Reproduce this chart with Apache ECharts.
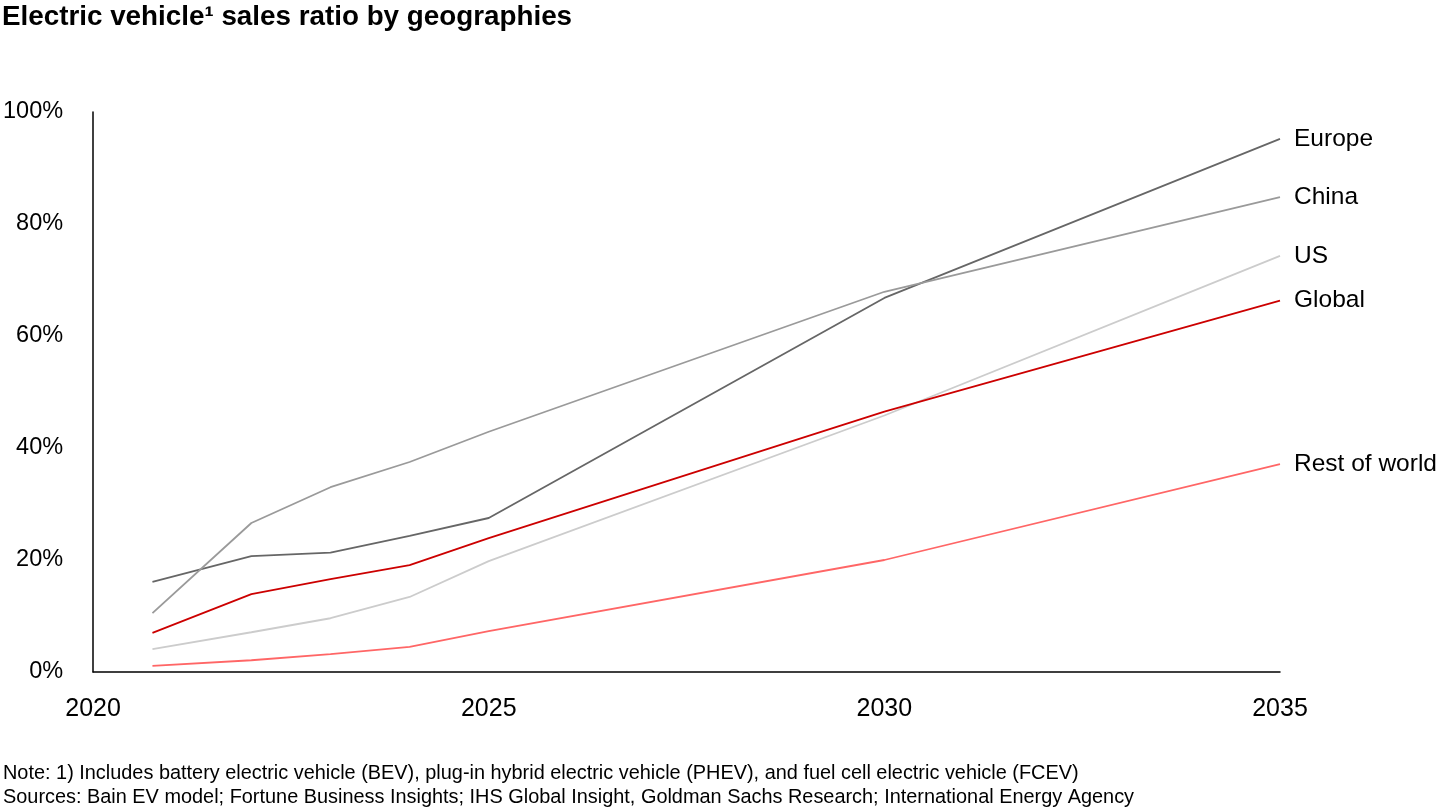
<!DOCTYPE html>
<html>
<head>
<meta charset="utf-8">
<script src="https://cdn.jsdelivr.net/npm/echarts@6/dist/echarts.min.js"></script>
<style>
html,body{margin:0;padding:0;background:#fff;}
#chart{width:1440px;height:810px;}
</style>
</head>
<body>
<div id="chart"></div>
<script>
const years = [2020.75, 2022, 2023, 2024, 2025, 2030, 2035];
const seriesNames = ['Europe', 'China', 'US', 'Global', 'Rest of world'];
const europe = [16.1, 20.7, 21.3, 24.3, 27.5, 66.8, 95.2];
const china = [10.5, 26.6, 33.0, 37.5, 42.9, 67.9, 84.8];
const us = [4.1, 7.1, 9.6, 13.4, 19.8, 45.8, 74.3];
const globalVals = [7.0, 13.9, 16.6, 19.1, 23.9, 46.5, 66.3];
const restOfWorld = [1.1, 2.1, 3.2, 4.5, 7.3, 20.0, 37.1];
const yTicks = [0, 20, 40, 60, 80, 100];
const xTicks = [2020, 2025, 2030, 2035];
const titleText = 'Electric vehicle\u00b9 sales ratio by geographies';
const noteText = 'Note: 1) Includes battery electric vehicle (BEV), plug-in hybrid electric vehicle (PHEV), and fuel cell electric vehicle (FCEV)';
const sourceText = 'Sources: Bain EV model; Fortune Business Insights; IHS Global Insight, Goldman Sachs Research; International Energy Agency';

const valuesList = [europe, china, us, globalVals, restOfWorld];
const colors = ['#666666', '#9a9a9a', '#cccccc', '#cc0000', '#ff6666'];
const FONT = '"Liberation Sans", Arial, sans-serif';

const chart = echarts.init(document.getElementById('chart'));
chart.setOption({
  animation: false,
  backgroundColor: '#fff',
  title: [
    {text: titleText, left: 2, top: 3, padding: 0, textStyle: {fontFamily: FONT, fontSize: 27.8, fontWeight: 'bold', color: '#000'}},
    {text: noteText, left: 3, top: 764, padding: 0, textStyle: {fontFamily: FONT, fontSize: 19.9, fontWeight: 'normal', color: '#000'}},
    {text: sourceText, left: 3, top: 788, padding: 0, textStyle: {fontFamily: FONT, fontSize: 19.9, fontWeight: 'normal', color: '#000'}}
  ],
  grid: {left: 92, right: 160, top: 112, bottom: 138},
  xAxis: {
    type: 'value', min: xTicks[0], max: xTicks[xTicks.length - 1], interval: 5,
    axisLine: {show: true, lineStyle: {color: '#000', width: 1.5}},
    axisTick: {show: false},
    splitLine: {show: false},
    axisLabel: {fontFamily: FONT, fontSize: 25, color: '#000', margin: 25, formatter: v => String(v)}
  },
  yAxis: {
    type: 'value', min: yTicks[0], max: yTicks[yTicks.length - 1], interval: 20,
    axisLine: {show: true, lineStyle: {color: '#000', width: 1.5}},
    axisTick: {show: false},
    splitLine: {show: false},
    axisLabel: {fontFamily: FONT, fontSize: 23.5, color: '#000', margin: 30, formatter: v => v + '%'}
  },
  series: seriesNames.map((name, i) => ({
    name: name,
    type: 'line',
    data: years.map((y, j) => [y, valuesList[i][j]]),
    showSymbol: false,
    symbol: 'none',
    lineStyle: {color: colors[i], width: 1.8},
    itemStyle: {color: colors[i]},
    endLabel: {show: true, formatter: '{a}', fontFamily: FONT, fontSize: 24.5, color: '#000', distance: 14}
  }))
});
</script>
</body>
</html>
